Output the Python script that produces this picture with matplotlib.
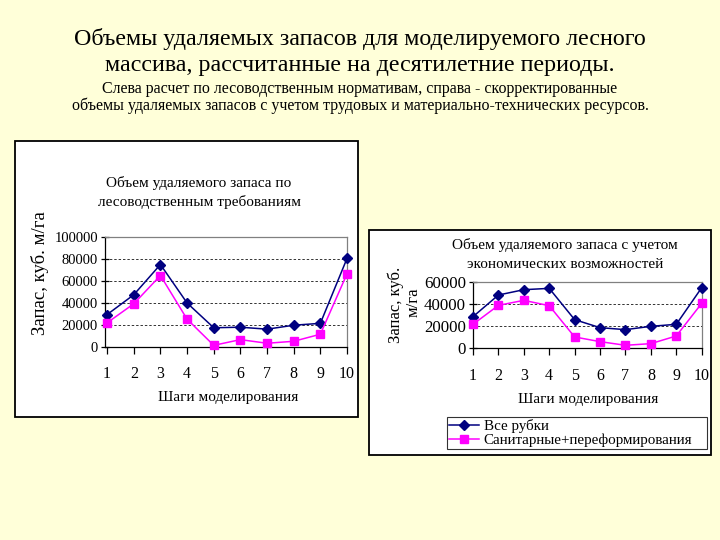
import matplotlib
matplotlib.use("Agg")
import matplotlib.pyplot as plt
from matplotlib.patches import Rectangle

plt.rcParams['font.family'] = ['Liberation Serif', 'DejaVu Serif']

W, H = 720, 540

steps = [1, 2, 3, 4, 5, 6, 7, 8, 9, 10]
left_all = [29500, 47500, 75000, 40000, 17500, 18000, 16200, 19800, 21500, 80500]
left_san = [22000, 39300, 65000, 25300, 1500, 6700, 3400, 5200, 11600, 66500]
right_all = [28500, 48000, 52800, 54000, 25800, 18600, 16800, 19800, 21600, 54600]
right_san = [21600, 38700, 43200, 38400, 10200, 6000, 2700, 4200, 11100, 40500]
left_yticks = [0, 20000, 40000, 60000, 80000, 100000]
right_yticks = [0, 20000, 40000, 60000]
legend_labels = ['Все рубки', 'Санитарные+переформирования']

BG = '#FFFFD9'
NAVY = '#000080'
MAG = '#FF00FF'

fig = plt.figure(figsize=(7.2, 5.4), dpi=100, facecolor=BG)


def box(x0, y0, x1, y1):
    return [x0 / W, 1 - y1 / H, (x1 - x0) / W, (y1 - y0) / H]


def fx(x):
    return x / W


def fy(y):
    return 1 - y / H


# panels
for (x0, y0, x1, y1) in [(15, 141, 358, 417), (369, 230, 711, 455)]:
    fig.patches.append(Rectangle((fx(x0), fy(y1)), fx(x1) - fx(x0), fy(y0) - fy(y1),
                                 transform=fig.transFigure, facecolor='white',
                                 edgecolor='black', linewidth=1.3, zorder=-5))

# titles
fig.text(0.5, fy(45), 'Объемы удаляемых запасов для моделируемого лесного',
         ha='center', va='baseline', fontsize=17.3)
fig.text(0.5, fy(71), 'массива, рассчитанные на десятилетние периоды.',
         ha='center', va='baseline', fontsize=17.3)
fig.text(0.5, fy(93), 'Слева расчет по лесоводственным нормативам, справа - скорректированные',
         ha='center', va='baseline', fontsize=11.5)
fig.text(0.5, fy(110), 'объемы удаляемых запасов с учетом трудовых и материально-технических ресурсов.',
         ha='center', va='baseline', fontsize=11.5)


def setup(ax, yticks, ymax, xmin, ytick_fs):
    ax.set_facecolor('white')
    ax.set_ylim(0, ymax)
    ax.set_xlim(xmin, 10)
    ax.set_yticks(yticks)
    ax.set_yticklabels([str(v) for v in yticks], fontsize=ytick_fs)
    ax.set_xticks(steps)
    ax.set_xticklabels([str(s) for s in steps], fontsize=11.5)
    for s in ['left', 'bottom']:
        ax.spines[s].set_color('black')
        ax.spines[s].set_linewidth(0.9)
    for s in ['top', 'right']:
        ax.spines[s].set_color('#808080')
        ax.spines[s].set_linewidth(0.9)
    ax.tick_params(axis='y', direction='inout', length=6, width=0.9, pad=2)
    ax.tick_params(axis='x', direction='out', length=5, width=0.9, pad=9)
    for v in yticks[1:-1]:
        ax.axhline(v, color='#333333', linestyle=(0, (2.5, 2)), linewidth=0.7, zorder=1)


axL = fig.add_axes(box(105, 237, 347, 347))
setup(axL, left_yticks, 100000, 0.92, 10.5)
lL1, = axL.plot(steps, left_all, color=NAVY, marker='D', markersize=4.8, linewidth=1.1,
                clip_on=False, zorder=3)
lL2, = axL.plot(steps, left_san, color=MAG, marker='s', markersize=5.2, linewidth=1.1,
                clip_on=False, zorder=3)

axR = fig.add_axes(box(473, 281.7, 701.7, 348.3))
setup(axR, right_yticks, 60000, 1.0, 12.2)
lR1, = axR.plot(steps, right_all, color=NAVY, marker='D', markersize=4.8, linewidth=1.1,
                clip_on=False, zorder=3)
lR2, = axR.plot(steps, right_san, color=MAG, marker='s', markersize=5.2, linewidth=1.1,
                clip_on=False, zorder=3)

# panel titles and axis labels
fig.text(fx(199), fy(183), 'Объем удаляемого запаса по', ha='center', va='center', fontsize=11)
fig.text(fx(199), fy(202), 'лесоводственным требованиям', ha='center', va='center', fontsize=11)
fig.text(fx(228), fy(397), 'Шаги моделирования', ha='center', va='center', fontsize=11)
fig.text(fx(40), fy(273), 'Запас, куб. м/га', ha='center', va='center', fontsize=13.5, rotation=90)

fig.text(fx(565), fy(245), 'Объем удаляемого запаса с учетом', ha='center', va='center', fontsize=11)
fig.text(fx(565), fy(264), 'экономических возможностей', ha='center', va='center', fontsize=11)
fig.text(fx(588), fy(400), 'Шаги моделирования', ha='center', va='center', fontsize=11)
fig.text(fx(396), fy(305), 'Запас, куб.', ha='center', va='center', fontsize=12, rotation=90)
fig.text(fx(414), fy(302), 'м/га', ha='center', va='center', fontsize=12, rotation=90)

leg = fig.legend([lR1, lR2], legend_labels, loc='upper left', mode='expand',
                 bbox_to_anchor=(fx(447), fy(447), fx(707) - fx(447), fy(417) - fy(447)),
                 bbox_transform=fig.transFigure,
                 frameon=True, fancybox=False, fontsize=10.8, handlelength=2.0,
                 borderpad=0.15, labelspacing=0.02, handletextpad=0.3, borderaxespad=0)
leg.get_frame().set_edgecolor('black')
leg.get_frame().set_linewidth(0.8)

fig.savefig('out.png', dpi=100, facecolor=BG)
